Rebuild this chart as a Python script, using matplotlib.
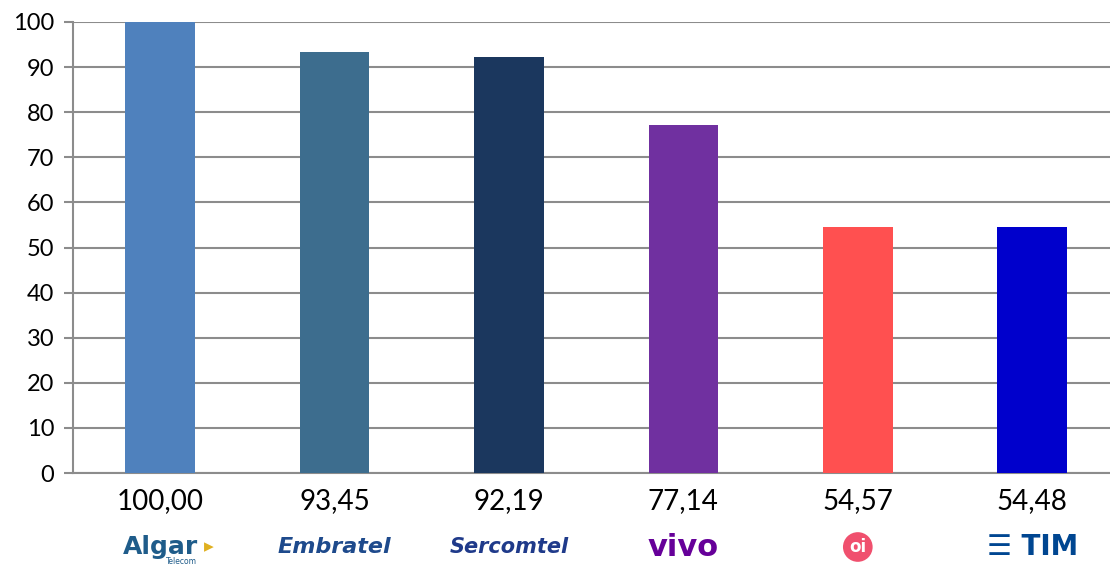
import matplotlib.pyplot as plt
import matplotlib.transforms as mtrans

# operator scores (index, Algar = 100)
operators = ["Algar", "Embratel", "Sercomtel", "vivo", "oi", "TIM"]
scores = [100.00, 93.45, 92.19, 77.14, 54.57, 54.48]
score_labels = ["100,00", "93,45", "92,19", "77,14", "54,57", "54,48"]
bar_colors = ["#4F81BD", "#3D6D8E", "#1B375E", "#7030A0", "#FF5050", "#0000CC"]
yticks = list(range(0, 101, 10))

fig = plt.figure(figsize=(11.10, 5.67), dpi=100)
ax = fig.add_axes([73 / 1110, 94 / 567, 1037 / 1110, 451 / 567])

x = list(range(len(scores)))
ax.bar(x, scores, width=0.40, color=bar_colors, zorder=3)

ax.set_xlim(-0.5, -0.5 + 1037 / 174.4)
ax.set_ylim(0, 100)
ax.set_yticks(yticks)
ax.set_xticks([])
ax.grid(axis="y", color="#8C8C8C", linewidth=1.5, zorder=0)
ax.set_axisbelow(True)
for s in ["top", "right"]:
    ax.spines[s].set_visible(False)
for s in ["left", "bottom"]:
    ax.spines[s].set_color("#8C8C8C")
    ax.spines[s].set_linewidth(1.5)
ax.tick_params(axis="y", length=6.5, width=1.5, color="#8C8C8C", pad=7,
               labelsize=17)
for lab in ax.get_yticklabels():
    lab.set_fontfamily("Lato")

trans = mtrans.blended_transform_factory(ax.transData, ax.transAxes)

# value labels under each bar
for xi, lab in zip(x, score_labels):
    ax.text(xi, -28 / 451, lab, transform=trans, ha="center", va="center",
            fontsize=20, family="Lato", clip_on=False)

# logos as styled text
ly = -74 / 451
ax.text(0, ly, "Algar", transform=trans, ha="center", va="center",
        fontsize=18, fontweight="bold", color="#1F5C8A", family="DejaVu Sans")
ax.text(0.28, ly, "▸", transform=trans, ha="center", va="center",
        fontsize=14, color="#E0B020")
ax.text(0.12, ly - 0.033, "Telecom", transform=trans, ha="center", va="center",
        fontsize=5.5, color="#1F5C8A")
ax.text(1, ly, "Embratel", transform=trans, ha="center", va="center",
        fontsize=16, fontweight="bold", fontstyle="italic", color="#1E4A8C",
        family="DejaVu Sans")
ax.text(2, ly, "Sercomtel", transform=trans, ha="center", va="center",
        fontsize=15, fontweight="bold", fontstyle="italic", color="#1F3A8A",
        family="DejaVu Sans")
ax.text(3, ly, "vivo", transform=trans, ha="center", va="center",
        fontsize=22, fontweight="bold", color="#660099", family="DejaVu Sans")
ax.text(4, ly, "oi", transform=trans, ha="center", va="center",
        fontsize=12, fontweight="bold", color="white", family="DejaVu Sans",
        bbox=dict(boxstyle="circle,pad=0.35", fc="#F0506E", ec="none"))
ax.text(5, ly, "☰ TIM", transform=trans, ha="center", va="center",
        fontsize=20, fontweight="bold", color="#004691", family="DejaVu Sans")

fig.savefig("out.png", dpi=100)
